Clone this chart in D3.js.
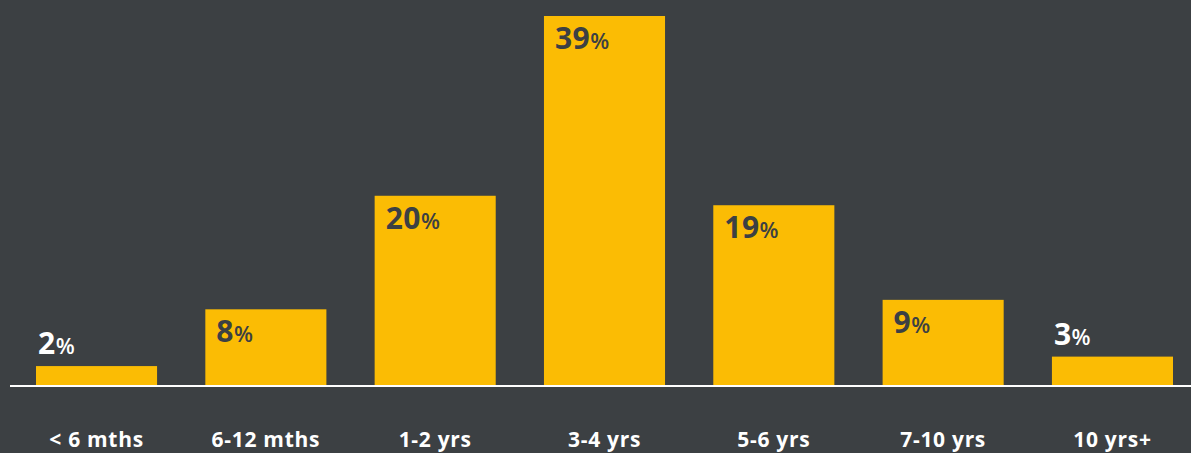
<!DOCTYPE html>
<html><head><meta charset="utf-8">
<script src="https://cdn.jsdelivr.net/npm/d3@7"></script>
<style>
html,body{margin:0;padding:0;background:#3c4043;}
svg{display:block;}
</style></head>
<body>
<svg id="chart" width="1191" height="453"></svg>
<script>
const categories = ["< 6 mths","6-12 mths","1-2 yrs","3-4 yrs","5-6 yrs","7-10 yrs","10 yrs+"];
const values = [2, 8, 20, 39, 19, 9, 3];

const W = 1191, H = 453;
const svg = d3.select("#chart");
svg.append("rect").attr("width", W).attr("height", H).attr("fill", "#3c4043");

const x = d3.scaleBand().domain(categories).range([36, 1173]).paddingInner(0.285).paddingOuter(0);
const y = d3.scaleLinear().domain([0, 39]).range([385, 16]);

const data = categories.map((c, i) => ({c, v: values[i]}));
const font = "'Open Sans', Roboto, sans-serif";

svg.selectAll("rect.bar").data(data).join("rect")
  .attr("class", "bar")
  .attr("x", d => x(d.c))
  .attr("y", d => y(d.v))
  .attr("width", x.bandwidth())
  .attr("height", d => y(0) - y(d.v))
  .attr("fill", "#fbbc04");

// baseline
svg.append("line").attr("x1", 10).attr("x2", W).attr("y1", y(0) + 1).attr("y2", y(0) + 1)
  .attr("stroke", "#ffffff").attr("stroke-width", 2);

// value labels
const inside = d => d.v >= 5;
const lbl = svg.selectAll("text.val").data(data).join("text")
  .attr("class", "val")
  .attr("x", d => x(d.c) + (inside(d) ? 11 : 2))
  .attr("y", d => inside(d) ? y(d.v) + 33 : y(d.v) - 12)
  .attr("fill", d => inside(d) ? "#3c4043" : "#ffffff")
  .style("font-family", font)
  .style("font-weight", "700");
lbl.append("tspan").attr("font-size", 30).attr("letter-spacing", 0.5).text(d => d.v);
lbl.append("tspan").attr("font-size", 22).attr("font-weight", 600).text("%");

// category axis labels
svg.selectAll("text.cat").data(data).join("text")
  .attr("class", "cat")
  .attr("x", d => x(d.c) + x.bandwidth() / 2)
  .attr("y", 447)
  .attr("text-anchor", "middle")
  .attr("fill", "#ffffff")
  .style("font-family", font)
  .style("font-weight", "700")
  .attr("font-size", 21)
  .attr("letter-spacing", 0.7)
  .text(d => d.c);
</script>
</body></html>
